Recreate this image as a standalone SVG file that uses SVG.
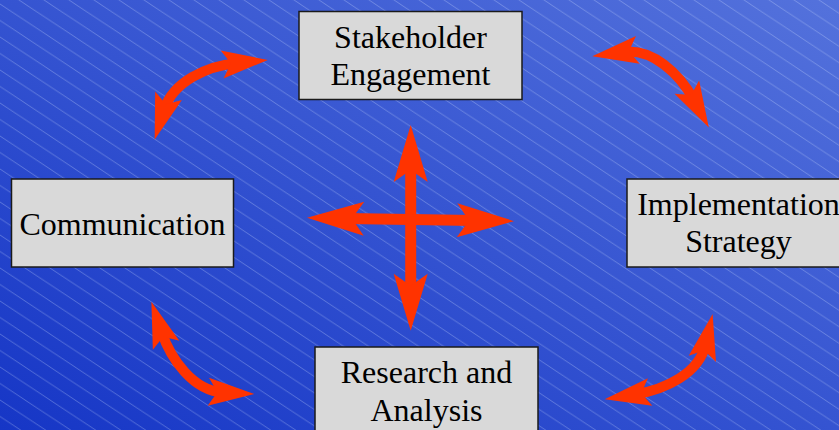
<svg xmlns="http://www.w3.org/2000/svg" width="839" height="430" viewBox="0 0 839 430">
<defs>
<linearGradient id="bg" x1="0" y1="1" x2="1" y2="0">
<stop offset="0" stop-color="#1636c6"/>
<stop offset="1" stop-color="#5472dc"/>
</linearGradient>
<pattern id="hatch" patternUnits="userSpaceOnUse" x="0" y="4" width="25" height="16.5">
<path d="M-25,-16.5 L50,33 M-25,0 L25,33 M0,-16.5 L50,16.5" stroke="#d6e0ff" stroke-width="0.8" stroke-opacity="0.38" fill="none"/>
</pattern>
<marker id="head" markerUnits="userSpaceOnUse" viewBox="-20 -16 55 32" refX="0" refY="0" markerWidth="55" markerHeight="32" orient="auto-start-reverse" overflow="visible">
<path d="M31,0 L-15,-14 L-6,0 L-15,14 Z" fill="#ff3300"/>
</marker>
<marker id="bighead" markerUnits="userSpaceOnUse" viewBox="-20 -20 65 40" refX="0" refY="0" markerWidth="65" markerHeight="40" orient="auto-start-reverse" overflow="visible">
<path d="M40,0 L-17,-17 L-5,0 L-17,17 Z" fill="#ff3300"/>
</marker>
<style>
.box{fill:#d9d9d9;stroke:#1a1a1a;stroke-width:1.5}
.lbl{font-family:"Liberation Serif","Times New Roman",serif;font-size:32px;fill:#000;text-anchor:middle}
.arc{fill:none;stroke:#ff3300;stroke-width:10;marker-start:url(#head);marker-end:url(#head)}
.cross{fill:none;stroke:#ff3300;stroke-width:11;marker-start:url(#bighead);marker-end:url(#bighead)}
</style>
</defs>
<rect x="0" y="0" width="839" height="430" fill="url(#bg)"/>
<rect x="0" y="0" width="839" height="430" fill="url(#hatch)"/>
<g id="connectors">
<path class="arc" d="M164,110 C173,81.5 207,66 237,63"/>
<path class="arc" d="M623,52 C652.7,48 679.7,74 694,100.3"/>
<path class="arc" d="M161.3,331.1 C170.9,359.5 193.3,391 223.3,392.5"/>
<path class="arc" d="M705.7,344.3 C699,373.5 665,389.6 635.3,394.3"/>
<path class="cross" d="M410.7,165 L410.7,290.7"/>
<path class="cross" d="M347,218.5 L474,220.5"/>
</g>
<g id="stakeholder">
<rect class="box" x="299" y="11.5" width="223" height="88"/>
<text class="lbl" x="410.5" y="48">Stakeholder</text>
<text class="lbl" x="410.5" y="85">Engagement</text>
</g>
<g id="communication">
<rect class="box" x="11.5" y="179" width="222" height="88"/>
<text class="lbl" x="122.5" y="235">Communication</text>
</g>
<g id="implementation">
<rect class="box" x="627" y="179" width="223" height="88"/>
<text class="lbl" x="738.5" y="215">Implementation</text>
<text class="lbl" x="738.5" y="252">Strategy</text>
</g>
<g id="research">
<rect class="box" x="315" y="347" width="223" height="88"/>
<text class="lbl" x="426.5" y="383">Research and</text>
<text class="lbl" x="426.5" y="421">Analysis</text>
</g>
</svg>
